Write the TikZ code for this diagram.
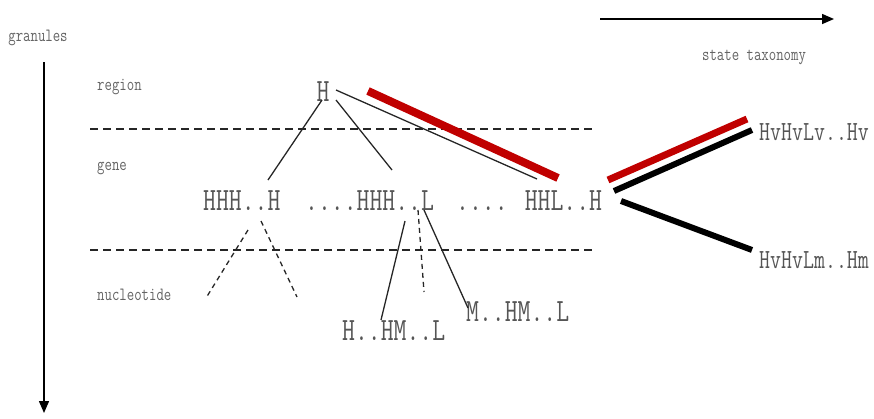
\documentclass[tikz,border=0pt]{standalone}
\usetikzlibrary{arrows.meta}
\definecolor{txtgray}{RGB}{85,85,85}
\definecolor{lblgray}{RGB}{100,100,100}
\definecolor{darkred}{RGB}{192,0,0}
\newcommand{\tallt}[1]{\scalebox{1}[1.3]{#1}}
\tikzset{
  big/.style={inner sep=0pt, text=txtgray, font=\fontsize{25}{25}\ttfamily},
  statelbl/.style={inner sep=0pt, text=txtgray, font=\fontsize{21.3}{21.3}\ttfamily},
  small/.style={inner sep=0pt, text=lblgray, font=\fontsize{14.4}{14.4}\ttfamily},
  thinline/.style={line width=1.3pt, black!85},
  thindash/.style={line width=1.3pt, black!85, dash pattern=on 5pt off 4pt},
  layer/.style={line width=2.4pt, black!85, dash pattern=on 8pt off 5pt},
  redbar/.style={line width=8pt, darkred},
  blackbar/.style={line width=6pt, black},
  axis/.style={line width=1.5pt, -{Triangle[length=12pt,width=10pt]}}
}
\begin{document}
\begin{tikzpicture}[x=1pt,y=-1pt]
\useasboundingbox (0,0) rectangle (874,418);

% axes
\coordinate (gtop) at (44,62);
\coordinate (gbot) at (44,413);
\draw[axis] (gtop) -- (gbot);
\coordinate (sl) at (600,19);
\coordinate (sr) at (834,19);
\draw[axis] (sl) -- (sr);

% axis and layer labels
\node[small, anchor=base] (granules) at (38,41) {\tallt{granules}};
\node[small, anchor=base] (taxo) at (754,60) {\tallt{state taxonomy}};
\node[small, anchor=base west] (lregion) at (97,90) {\tallt{region}};
\node[small, anchor=base west] (lgene) at (97,170) {\tallt{gene}};
\node[small, anchor=base west] (lnuc) at (97,300) {\tallt{nucleotide}};

% layer separators
\coordinate (d1l) at (90,129);
\coordinate (d1r) at (592,129);
\coordinate (d2l) at (90,250);
\coordinate (d2r) at (592,250);
\draw[layer] (d1l) -- (d1r);
\draw[layer] (d2l) -- (d2r);

% granule strings
\node[big, anchor=base] (root) at (323,101) {\tallt{H}};
\node[big, anchor=base west] (g1) at (203,210) {\tallt{HHH..H}};
\node[big, anchor=base west] (g2) at (305,210) {\tallt{....HHH..L}};
\node[big, anchor=base west] (g3) at (456,210) {\tallt{.... HHL..H}};
\node[big, anchor=base west] (n1) at (342,340) {\tallt{H..HM..L}};
\node[big, anchor=base west] (n2) at (466,321) {\tallt{M..HM..L}};
\node[statelbl, anchor=base west] (s1) at (759,140) {\tallt{HvHvLv..Hv}};
\node[statelbl, anchor=base west] (s2) at (759,268) {\tallt{HvHvLm..Hm}};

% region to gene links
\coordinate (r1) at (322,100);
\coordinate (r2) at (336,100);
\coordinate (r3) at (336,90);
\coordinate (e1) at (268,180);
\coordinate (e2) at (392,170);
\coordinate (e3) at (537,179);
\draw[thinline] (r1) -- (e1);
\draw[thinline] (r2) -- (e2);
\draw[thinline] (r3) -- (e3);
\coordinate (ra) at (368,91);
\coordinate (rb) at (558,178);
\draw[redbar] (ra) -- (rb);

% gene to nucleotide links
\coordinate (a1) at (248,230);
\coordinate (a2) at (206,298);
\coordinate (b1) at (261,221);
\coordinate (b2) at (297,297);
\draw[thindash] (a1) -- (a2);
\draw[thindash] (b1) -- (b2);
\coordinate (c1) at (405,221);
\coordinate (c2) at (381,320);
\draw[thinline] (c1) -- (c2);
\coordinate (f1) at (418,210);
\coordinate (f2) at (424,292);
\draw[thindash] (f1) -- (f2);
\coordinate (h1) at (424,210);
\coordinate (h2) at (468,308);
\draw[thinline] (h1) -- (h2);

% state taxonomy branches
\coordinate (t1) at (608,180);
\coordinate (t2) at (747,119);
\draw[line width=7pt, darkred] (t1) -- (t2);
\coordinate (u1) at (614,191);
\coordinate (u2) at (752,130);
\draw[blackbar] (u1) -- (u2);
\coordinate (v1) at (621,201);
\coordinate (v2) at (752,250);
\draw[blackbar] (v1) -- (v2);
\end{tikzpicture}
\end{document}
